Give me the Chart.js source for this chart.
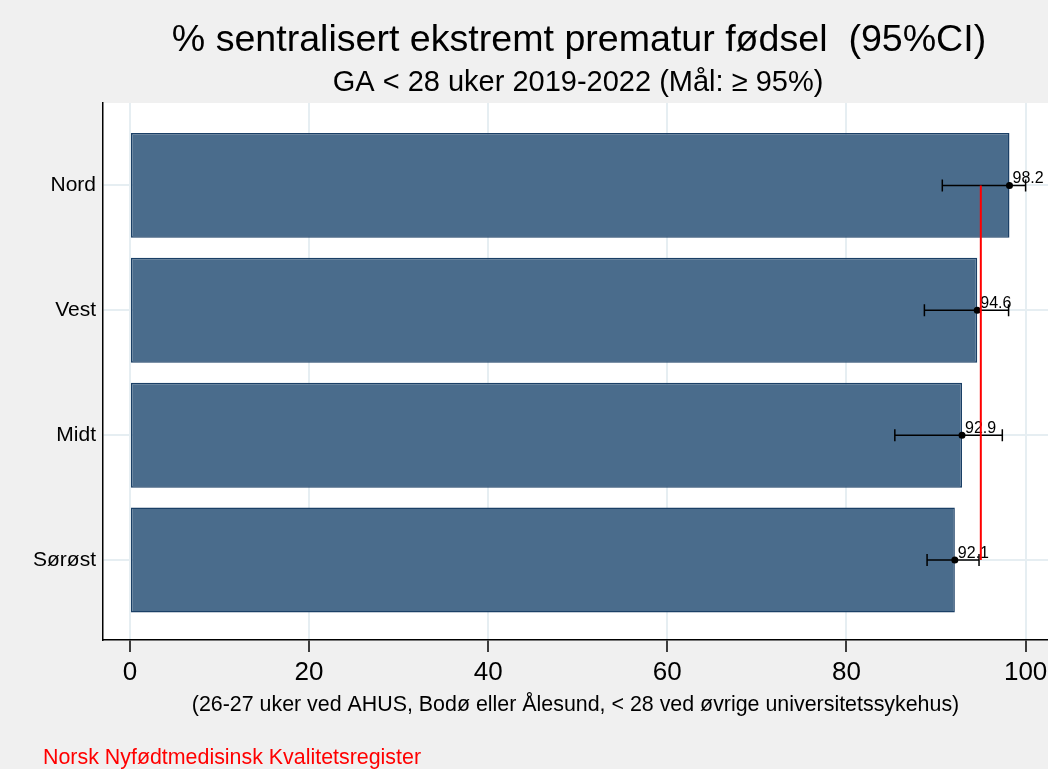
<!DOCTYPE html>
<html>
<head>
<meta charset="utf-8">
<script src="https://cdn.jsdelivr.net/npm/chart.js@4.4.0/dist/chart.umd.min.js"></script>
<style>
  html, body { margin: 0; padding: 0; background: #f0f0f0; }
  #wrap { width: 1048px; height: 769px; }
</style>
</head>
<body>
<div id="wrap"><canvas id="chart" width="1048" height="769"></canvas></div>
<script>
// Data
const regioner = ['Nord', 'Vest', 'Midt', 'Sørøst'];
const andel = [98.2, 94.6, 92.9, 92.1];
const nedre = [90.7, 88.7, 85.4, 89.0];   // lower 95% CI
const ovre = [100, 98.1, 97.4, 94.8];     // upper 95% CI
const maal = 95;                          // target line
const xTicks = [0, 20, 40, 60, 80, 100];

const tittel = '% sentralisert ekstremt prematur fødsel  (95%CI)';
const undertittel = 'GA < 28 uker 2019-2022 (Mål: ≥ 95%)';
const xTittel = '(26-27 uker ved AHUS, Bodø eller Ålesund, < 28 ved øvrige universitetssykehus)';
const kilde = 'Norsk Nyfødtmedisinsk Kvalitetsregister';

const FONT = '"Liberation Sans", Arial, sans-serif';

// white plot region + texts, error bars, target line
const pynt = {
  id: 'pynt',
  beforeDraw(chart) {
    const { ctx, chartArea: a } = chart;
    ctx.save();
    ctx.fillStyle = '#ffffff';
    ctx.fillRect(a.left, a.top, a.right - a.left, a.bottom - a.top);
    ctx.restore();
  },
  afterDatasetsDraw(chart) {
    const { ctx, scales: { x, y } } = chart;
    ctx.save();
    // error bars
    ctx.strokeStyle = '#000';
    ctx.lineWidth = 1.5;
    andel.forEach((v, i) => {
      const py = y.getPixelForValue(i + 1);
      const x0 = x.getPixelForValue(nedre[i]);
      const x1 = x.getPixelForValue(ovre[i]);
      ctx.beginPath();
      ctx.moveTo(x0, py); ctx.lineTo(x1, py);
      ctx.moveTo(x0, py - 6); ctx.lineTo(x0, py + 6);
      ctx.moveTo(x1, py - 6); ctx.lineTo(x1, py + 6);
      ctx.stroke();
      ctx.beginPath();
      ctx.arc(x.getPixelForValue(v), py, 3.5, 0, Math.PI * 2);
      ctx.fillStyle = '#000';
      ctx.fill();
    });
    // value labels
    ctx.font = '16px ' + FONT;
    ctx.textAlign = 'left';
    ctx.textBaseline = 'alphabetic';
    andel.forEach((v, i) => {
      ctx.fillText(v.toFixed(1), x.getPixelForValue(v) + 3, y.getPixelForValue(i + 1) - 2);
    });
    // target line
    ctx.strokeStyle = '#ff0000';
    ctx.lineWidth = 2;
    ctx.beginPath();
    ctx.moveTo(x.getPixelForValue(maal), y.getPixelForValue(1));
    ctx.lineTo(x.getPixelForValue(maal), y.getPixelForValue(regioner.length));
    ctx.stroke();
    ctx.restore();
  },
  afterDraw(chart) {
    const { ctx } = chart;
    ctx.save();
    ctx.fillStyle = '#000';
    ctx.textAlign = 'center';
    ctx.textBaseline = 'middle';
    ctx.font = '37.6px ' + FONT;
    ctx.fillText(tittel, 579, 41);
    ctx.font = '29px ' + FONT;
    ctx.fillText(undertittel, 578, 83);
    ctx.textAlign = 'left';
    ctx.fillStyle = '#ff0000';
    ctx.font = '21.4px ' + FONT;
    ctx.fillText(kilde, 43, 758);
    ctx.restore();
  }
};

const ctx = document.getElementById('chart').getContext('2d');

new Chart(ctx, {
  type: 'bar',
  data: {
    datasets: [{
      data: andel.map((v, i) => ({ x: v, y: i + 1 })),
      backgroundColor: '#4a6c8c',
      borderColor: '#1a3f66',
      borderWidth: 1.5,
      borderSkipped: false,
      barPercentage: 0.84,
      categoryPercentage: 1
    }]
  },
  options: {
    indexAxis: 'y',
    responsive: false,
    animation: false,
    layout: { padding: { top: 103, right: 0, left: 0, bottom: 0 } },
    plugins: {
      legend: { display: false },
      tooltip: { enabled: false }
    },
    scales: {
      x: {
        type: 'linear',
        min: -3,
        max: 102.5,
        afterBuildTicks: (s) => { s.ticks = xTicks.map(v => ({ value: v })); },
        afterFit: (s) => { s.height = 129; s.paddingRight = 0; s.paddingLeft = 0; },
        grid: { color: '#e6eef2', lineWidth: 2, tickColor: '#000', tickLength: 12, tickWidth: 1.5 },
        border: { color: '#000', width: 1.5 },
        ticks: { color: '#000', padding: 5, font: { size: 26, family: FONT } },
        title: {
          display: true,
          text: xTittel,
          color: '#000',
          font: { size: 21.4, family: FONT },
          padding: { top: 0, bottom: 51 }
        }
      },
      y: {
        type: 'linear',
        reverse: true,
        offset: false,
        min: 0.34,
        max: 4.64,
        afterBuildTicks: (s) => { s.ticks = regioner.map((_, i) => ({ value: i + 1 })); },
        afterFit: (s) => { s.width = 103; },
        grid: { color: '#e6eef2', lineWidth: 2, drawTicks: false, offset: false },
        border: { color: '#000', width: 1.5 },
        ticks: {
          color: '#000',
          padding: 7,
          font: { size: 21, family: FONT },
          callback: (v) => regioner[v - 1]
        }
      }
    }
  },
  plugins: [pynt]
});
</script>
</body>
</html>
